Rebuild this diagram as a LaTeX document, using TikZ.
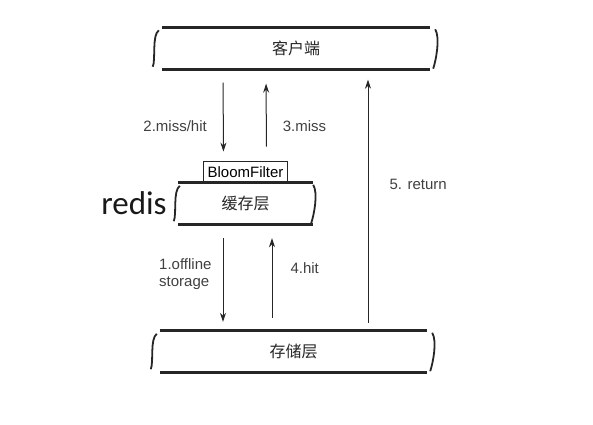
\documentclass[tikz,border=0pt]{standalone}
\usepackage{fontspec}
\setmainfont{Liberation Sans}
\newfontfamily\cjkfont{Noto Sans CJK SC}
\newfontfamily\redisfont{Carlito}
\usetikzlibrary{positioning, arrows.meta}

% side strokes of a layer, #2 = gap to the node border
\newcommand{\layersides}[2]{%
  \draw[sideline] ([xshift=-#2+4pt,yshift=-3pt]#1.north west)
    .. controls ([xshift=-#2-3pt,yshift=-8pt]#1.north west) and ([xshift=-#2+1pt,yshift=10pt]#1.south west)
    .. ([xshift=-#2-2pt,yshift=3pt]#1.south west);
  \draw[sideline] ([xshift=#2-2pt,yshift=-2pt]#1.north east)
    .. controls ([xshift=#2+3pt,yshift=-10pt]#1.north east) and ([xshift=#2-1pt,yshift=10pt]#1.south east)
    .. ([xshift=#2-4pt,yshift=1pt]#1.south east);
}

\begin{document}
\begin{tikzpicture}[x=1pt, y=-1pt,
    layer/.style={minimum height=42pt, inner sep=0pt, font=\cjkfont\fontsize{16}{16}\selectfont, text=black!85},
    layerline/.style={line width=2.7pt, draw=black!85},
    sideline/.style={line width=1.8pt, draw=black!85},
    arr/.style={-{Stealth[length=9pt,width=6pt]}, line width=1pt, draw=black!85},
    lbl/.style={font=\fontsize{15}{17}\selectfont, text=black!75, inner sep=0pt},
    bloombox/.style={draw=black!85, line width=1.2pt, minimum width=84pt, minimum height=21pt, inner sep=0pt, font=\fontsize{15}{15}\selectfont},
  ]
  \useasboundingbox (0,0) rectangle (593,424);

  % === layers ===
  \node[layer, minimum width=268pt] (client) at (296,48.5) {客户端};
  \node[layer, minimum width=135pt, minimum height=41pt] (cache) at (245.5,203.5) {缓存层};
  \node[layer, minimum width=267pt, minimum height=41pt] (storage) at (293.5,351.5) {存储层};
  \foreach \n in {client, cache, storage} {
    \draw[layerline] (\n.north west) -- (\n.north east);
    \draw[layerline] (\n.south west) -- (\n.south east);
  }
  \layersides{client}{7pt}
  \layersides{cache}{2pt}
  \layersides{storage}{7pt}

  \node[bloombox, above=0pt of cache] (bloom) {BloomFilter};
  \node[font=\redisfont\fontsize{33}{33}\selectfont, text=black!90, inner sep=0pt, left=11pt of cache] (redis) {redis};

  % === requests ===
  \draw[arr, shorten <=13pt, shorten >=9pt] ([xshift=-73pt]client.south)
    -- node[lbl, left=16pt, pos=0.62] {2.miss/hit} ([xshift=-22pt]bloom.north);
  \draw[arr, shorten <=14pt, shorten >=14pt] ([xshift=21pt]bloom.north)
    -- node[lbl, right=16pt, pos=0.38] {3.miss} ([xshift=-30pt]client.south);
  \draw[arr, shorten <=14pt, shorten >=9pt] ([xshift=-22.5pt]cache.south)
    -- node[lbl, left=11pt, pos=0.47, align=left] {1.offline\\storage} ([xshift=-70.5pt]storage.north);
  \draw[arr, shorten <=13pt, shorten >=14pt] ([xshift=-21.5pt]storage.north)
    -- node[lbl, right=18pt, pos=0.59] {4.hit} ([xshift=26.5pt]cache.south);
  \draw[arr, shorten <=8pt, shorten >=10pt] ([xshift=74.5pt]storage.north)
    -- node[lbl, right=21pt, pos=0.56] {5. return} ([xshift=72pt]client.south);
\end{tikzpicture}
\end{document}
